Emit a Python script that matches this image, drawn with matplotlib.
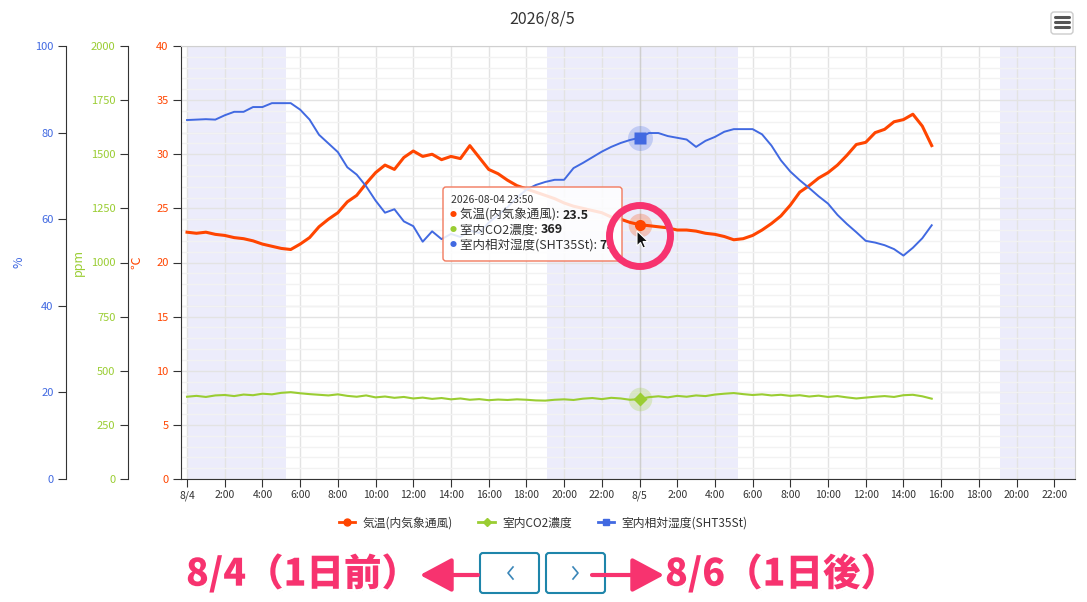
import numpy as np
import matplotlib.pyplot as plt
from matplotlib.lines import Line2D
from matplotlib.patches import FancyBboxPatch, Circle, Polygon, FancyArrowPatch
from matplotlib.transforms import IdentityTransform
import matplotlib.patheffects as pe

plt.rcParams['font.family'] = ['Noto Sans CJK JP', 'DejaVu Sans']

W, H = 1087, 602

# measurements every 30 min from 8/4 0:00 (hours since 8/4 0:00)
hours = np.arange(0, 40, 0.5)
temp = [22.8, 22.7, 22.8, 22.6, 22.5, 22.3, 22.2, 22.0, 21.7, 21.5,
        21.3, 21.2, 21.7, 22.3, 23.3, 24.0, 24.6, 25.6, 26.2, 27.3,
        28.3, 29.0, 28.6, 29.7, 30.3, 29.8, 30.0, 29.5, 29.8, 29.6,
        30.8, 29.7, 28.6, 28.2, 27.6, 27.1, 26.8, 26.5, 26.2, 25.9,
        25.5, 25.2, 25.0, 24.8, 24.6, 24.2, 24.0, 23.7, 23.5, 23.4,
        23.3, 23.2, 23.0, 23.0, 22.9, 22.7, 22.6, 22.4, 22.1, 22.2,
        22.5, 23.0, 23.6, 24.3, 25.3, 26.5, 27.1, 27.8, 28.3, 29.0,
        29.9, 30.9, 31.1, 32.0, 32.3, 33.0, 33.2, 33.7, 32.6, 30.8]
co2 = [380, 384, 379, 386, 388, 383, 390, 387, 394, 391,
       398, 401, 396, 392, 389, 386, 391, 384, 380, 386,
       377, 381, 375, 379, 372, 376, 370, 374, 368, 372,
       366, 369, 364, 367, 365, 368, 366, 363, 362, 366,
       368, 365, 371, 374, 369, 375, 372, 366, 369, 378,
       382, 377, 384, 380, 386, 383, 390, 394, 397, 392,
       388, 391, 386, 389, 384, 387, 381, 385, 379, 383,
       377, 372, 376, 380, 383, 379, 387, 389, 382, 371]
hum = [82.9, 83.0, 83.1, 83.0, 84.0, 84.8, 84.8, 85.9, 85.9, 86.8,
       86.8, 86.8, 85.3, 83.0, 79.5, 77.5, 75.5, 72.0, 70.3, 67.6,
       64.3, 61.5, 62.3, 59.5, 58.4, 54.8, 57.2, 55.4, 56.6, 55.9,
       57.4, 56.8, 59.2, 61.0, 62.8, 65.0, 66.8, 67.9, 68.6, 69.1,
       69.1, 71.8, 73.0, 74.3, 75.6, 76.7, 77.6, 78.3, 78.8, 79.9,
       79.9, 79.2, 78.8, 78.4, 76.7, 78.1, 79.0, 80.2, 80.8, 80.8,
       80.8, 79.6, 77.0, 73.6, 71.0, 69.0, 67.2, 65.3, 63.6, 61.0,
       58.9, 57.0, 55.0, 54.6, 54.0, 53.1, 51.6, 53.4, 55.6, 58.6]

night = [(0, 5.25), (19.1, 29.2), (43.1, 47.1)]
xticks = list(range(0, 47, 2))
xlabels = ['8/4' if h == 0 else '8/5' if h == 24 else f'{h % 24}:00' for h in xticks]
names = ['気温(内気象通風)', '室内CO2濃度', '室内相対湿度(SHT35St)']
c_temp, c_co2, c_hum = '#ff4500', '#9acd32', '#4169e1'
tip = 48  # 2026-08-04 23:50
pink = '#f7336f'

fig = plt.figure(figsize=(W / 100, H / 100), dpi=100)
ax = fig.add_axes([181 / W, 1 - 479 / H, 894 / W, 433 / H])
ax.set_xlim(-0.32, 47.1)
ax.set_ylim(0, 40)

for a, b in night:
    ax.axvspan(a, b, color='#ececfb', lw=0, zorder=0.2)

ax.set_axisbelow(True)
ax.set_xticks(xticks)
ax.set_xticklabels(xlabels)
ax.set_yticks(np.arange(0, 41, 5))
ax.set_yticks(np.arange(0, 40.5, 1), minor=True)
ax.grid(which='major', color='#e3e3e3', lw=1)
ax.grid(which='minor', axis='y', color='#f2f2f2', lw=1)
for v in range(20, 100, 20):
    ax.axhline(v * 0.4, color='#e8e8e8', lw=1, zorder=0.4)
ax.tick_params(axis='y', which='minor', length=0)
ax.tick_params(axis='x', length=6, color='#333333', labelsize=7.5, labelcolor='#333333', pad=2)
ax.tick_params(axis='y', which='major', length=6, color='#333333', labelsize=8,
               labelcolor=c_temp, pad=3)
for s in ('top', 'right'):
    ax.spines[s].set_color('#d0d0d0')
for s in ('left', 'bottom'):
    ax.spines[s].set_color('#333333')
ax.set_ylabel('℃', color=c_temp, fontsize=9, va='center')
ax.yaxis.set_label_coords((137 - 181) / 894, 0.5)

ax.axvline(hours[tip], color='#cfcfcf', lw=1, zorder=1)
ax.plot(hours, temp, color=c_temp, lw=2.2, zorder=3)


def left_axis(xpx, top, step, color, label, label_px):
    a = ax.twinx()
    a.set_ylim(0, top)
    a.set_yticks(np.arange(0, top + 1, step))
    a.yaxis.tick_left()
    a.yaxis.set_label_position('left')
    for s in ('right', 'top', 'bottom'):
        a.spines[s].set_visible(False)
    a.spines['left'].set_visible(True)
    a.spines['left'].set_position(('axes', (xpx - 181) / 894))
    a.spines['left'].set_color('#333333')
    a.tick_params(axis='y', length=6, color='#333333', labelsize=8, labelcolor=color, pad=3)
    a.set_ylabel(label, color=color, fontsize=9, va='center')
    a.yaxis.set_label_coords((label_px - 181) / 894, 0.5)
    return a


ax_ppm = left_axis(128, 2000, 250, c_co2, 'ppm', 78)
ax_hum = left_axis(66, 100, 20, c_hum, '%', 19)

ax_ppm.plot(hours, co2, color=c_co2, lw=1.5, zorder=3)
ax_hum.plot(hours, hum, color=c_hum, lw=1.4, zorder=3)

# hovered points
ax.plot(hours[tip], temp[tip], 'o', ms=17, color=c_temp, alpha=0.25, mec='none', zorder=4)
ax.plot(hours[tip], temp[tip], 'o', ms=8, color=c_temp, mec='none', zorder=4)
ax_ppm.plot(hours[tip], co2[tip], 'o', ms=17, color=c_co2, alpha=0.25, mec='none', zorder=4)
ax_ppm.plot(hours[tip], co2[tip], 'D', ms=7, color=c_co2, mec='none', zorder=4)
ax_hum.plot(hours[tip], hum[tip], 'o', ms=18, color=c_hum, alpha=0.25, mec='none', zorder=4)
ax_hum.plot(hours[tip], hum[tip], 's', ms=8, color=c_hum, mec='none', zorder=4)

ID = IdentityTransform()

# tooltip
fig.add_artist(FancyBboxPatch((443, H - 261), 179, 74, boxstyle='round,pad=0,rounding_size=3',
                              fc=(1, 1, 1, 0.85), ec='#f27a5e', lw=1, transform=ID, zorder=5))
fig.text(451 / W, 1 - 200 / H, '2026-08-04 23:50', fontsize=7.5, color='#333333',
         va='center', zorder=6)
rows = [(c_temp, names[0], f'{temp[tip]:.1f}'),
        (c_co2, names[1], f'{co2[tip]}'),
        (c_hum, names[2], f'{hum[tip]:.0f}')]
for i, (c, name, val) in enumerate(rows):
    y = 1 - (215 + 15 * i) / H
    fig.text(450 / W, y, '●', fontsize=5, color=c, va='center', zorder=6)
    t = fig.text(460 / W, y, name + ': ', fontsize=9, color='#333333', va='center', zorder=6)
    fig.add_artist(plt.Annotation(val, xy=(1, 0.5), xycoords=t, va='center', fontsize=9,
                                  fontweight='bold', color='#222222', zorder=6))

# highlight circle and cursor
fig.add_artist(Circle((640, H - 236), 30.5, fill=False, ec=pink, lw=5, transform=ID, zorder=7))
cur = np.array([(0, 0), (0, 15), (3.5, 11.5), (6, 17), (8.5, 16), (6, 10.5), (11, 10.5)])
fig.add_artist(Polygon(np.c_[637 + cur[:, 0], H - 231 - cur[:, 1]], closed=True, fc='#111111',
                       ec='white', lw=0.8, transform=ID, zorder=8))

# title and menu
fig.text(542 / W, 1 - 19 / H, '2026/8/5', fontsize=11.5, color='#333333', ha='center', va='center')
fig.add_artist(FancyBboxPatch((1051, H - 34), 22, 22, boxstyle='round,pad=0,rounding_size=3',
                              fc='white', ec='#cccccc', lw=1, transform=ID))
for yy in (17, 22, 27):
    fig.add_artist(Line2D([1055, 1069], [H - yy, H - yy], color='#555555', lw=2.2,
                          solid_capstyle='round', transform=ID))

# legend
handles = [Line2D([], [], color=c_temp, lw=2, marker='o', ms=5),
           Line2D([], [], color=c_co2, lw=2, marker='D', ms=4),
           Line2D([], [], color=c_hum, lw=2, marker='s', ms=5)]
fig.legend(handles, names, loc='center', bbox_to_anchor=(543 / W, 1 - 523 / H), ncol=3,
           frameon=False, fontsize=8.5, handlelength=1.4, handletextpad=0.6,
           columnspacing=2.2, labelcolor='#333333')

# navigation
for x0, pts in ((480, [(513, 567), (508, 573), (513, 579)]),
                (546, [(573, 567), (578, 573), (573, 579)])):
    fig.add_artist(FancyBboxPatch((x0, H - 593), 59, 40, boxstyle='round,pad=0,rounding_size=3',
                                  fc='white', ec='#1e85aa', lw=1.5, transform=ID))
    fig.add_artist(Line2D([p[0] for p in pts], [H - p[1] for p in pts], color='#3a86b8',
                          lw=1.2, transform=ID))
outline = [pe.SimplePatchShadow(offset=(1, -1.5), shadow_rgbFace='#000000', alpha=0.25),
           pe.withStroke(linewidth=4, foreground='white')]
fig.text(186 / W, 1 - 574 / H, '8/4（1日前）', fontsize=27, fontweight='black', color=pink,
         va='center', ha='left', path_effects=outline)
fig.text(665 / W, 1 - 574 / H, '8/6（1日後）', fontsize=27, fontweight='black', color=pink,
         va='center', ha='left', path_effects=outline)
for a, b in ((478, 420), (592, 664)):
    fig.add_artist(FancyArrowPatch((a, H - 575), (b, H - 575),
                                   arrowstyle='-|>,head_length=1.4,head_width=0.75',
                                   mutation_scale=14, lw=3, color=pink, shrinkA=0, shrinkB=0,
                                   transform=ID))

fig.savefig('out.png', dpi=100)
